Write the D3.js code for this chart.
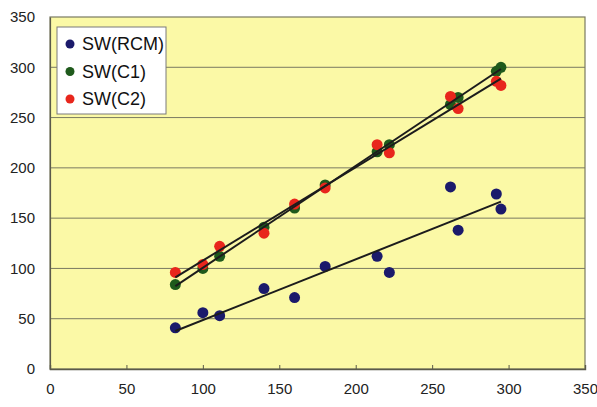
<!DOCTYPE html>
<html>
<head>
<meta charset="utf-8">
<script src="https://cdn.jsdelivr.net/npm/d3@7"></script>
<style>
  html, body { margin: 0; padding: 0; background: #ffffff; }
  svg { display: block; }
  text { font-family: "Liberation Sans", Arial, sans-serif; }
</style>
</head>
<body>
<svg id="chart" width="597" height="407"></svg>
<script>
// ---- data ----
const xValues = [82, 100, 111, 140, 160, 180, 214, 222, 262, 267, 292, 295];
const rcmValues = [41, 56, 53, 80, 71, 102, 112, 96, 181, 138, 174, 159];
const c1Values  = [84, 100, 112, 141, 160, 183, 216, 223, 263, 270, 296, 300];
const c2Values  = [96, 104, 122, 135, 164, 180, 223, 215, 271, 259, 286, 282];
const seriesNames = ["SW(RCM)", "SW(C1)", "SW(C2)"];
const seriesColors = ["#1b1a6b", "#1f5a1c", "#e8261c"];
const xTicks = [0, 50, 100, 150, 200, 250, 300, 350];
const yTicks = [0, 50, 100, 150, 200, 250, 300, 350];

const series = [
  { name: seriesNames[0], color: seriesColors[0], values: rcmValues },
  { name: seriesNames[1], color: seriesColors[1], values: c1Values },
  { name: seriesNames[2], color: seriesColors[2], values: c2Values }
];

// ---- layout ----
const svg = d3.select("#chart");
const plot = { left: 50, right: 585, top: 17, bottom: 369 };
const x = d3.scaleLinear().domain([0, 350]).range([plot.left, plot.right]);
const y = d3.scaleLinear().domain([0, 350]).range([plot.bottom, plot.top]);

// plot background
svg.append("rect")
  .attr("x", plot.left).attr("y", plot.top)
  .attr("width", plot.right - plot.left).attr("height", plot.bottom - plot.top)
  .attr("fill", "#fbf9a6");

// gridlines
svg.append("g")
  .selectAll("line")
  .data(yTicks.filter(t => t > 0 && t < 350))
  .join("line")
  .attr("x1", plot.left).attr("x2", plot.right)
  .attr("y1", d => y(d)).attr("y2", d => y(d))
  .attr("stroke", "#7a7a62").attr("stroke-width", 1);

// border
svg.append("rect")
  .attr("x", plot.left).attr("y", plot.top)
  .attr("width", plot.right - plot.left).attr("height", plot.bottom - plot.top)
  .attr("fill", "none").attr("stroke", "#7a7a62").attr("stroke-width", 1.2);

// x axis
const xAxis = d3.axisBottom(x).tickValues(xTicks).tickSize(-4).tickPadding(14).tickFormat(d3.format("d"));
const gx = svg.append("g").attr("transform", `translate(0,${plot.bottom})`).call(xAxis);
gx.select(".domain").attr("stroke", "#5a5a4a").attr("stroke-width", 1.4);
gx.selectAll(".tick line").attr("stroke", "#5a5a4a");
gx.selectAll(".tick text").attr("font-size", 15).attr("fill", "#222").attr("font-family", "Liberation Sans, Arial, sans-serif");

// y axis
const yAxis = d3.axisLeft(y).tickValues(yTicks).tickSize(0).tickPadding(15).tickFormat(d3.format("d"));
const gy = svg.append("g").attr("transform", `translate(${plot.left},0)`).call(yAxis);
gy.select(".domain").attr("stroke", "#5a5a4a").attr("stroke-width", 1.2);
gy.selectAll(".tick text").attr("font-size", 15).attr("fill", "#222").attr("font-family", "Liberation Sans, Arial, sans-serif");

// regression lines (least squares fit of each series)
function fit(xs, ys) {
  const mx = d3.mean(xs), my = d3.mean(ys);
  let sxy = 0, sxx = 0;
  xs.forEach((xv, i) => { sxy += (xv - mx) * (ys[i] - my); sxx += (xv - mx) * (xv - mx); });
  const b = sxy / sxx, a = my - b * mx;
  const x0 = d3.min(xs), x1 = d3.max(xs);
  return [[x0, a + b * x0], [x1, a + b * x1]];
}
const line = d3.line().x(d => x(d[0])).y(d => y(d[1]));

// points
series.forEach(s => {
  svg.append("g")
    .selectAll("circle")
    .data(s.values.map((v, i) => [xValues[i], v]))
    .join("circle")
    .attr("cx", d => x(d[0])).attr("cy", d => y(d[1]))
    .attr("r", 5.5)
    .attr("fill", s.color);
});

series.forEach(s => {
  svg.append("path")
    .attr("d", line(fit(xValues, s.values)))
    .attr("fill", "none")
    .attr("stroke", "#1c1c1c")
    .attr("stroke-width", 2);
});

// legend
const lg = svg.append("g");
lg.append("rect")
  .attr("x", 57).attr("y", 27).attr("width", 109).attr("height", 87)
  .attr("fill", "#ffffff").attr("stroke", "#7a7a7a").attr("stroke-width", 1);
series.forEach((s, i) => {
  const cy = 44 + i * 27.5;
  lg.append("circle").attr("cx", 70).attr("cy", cy).attr("r", 4.5).attr("fill", s.color);
  lg.append("text").attr("x", 82).attr("y", cy).attr("dy", "0.36em")
    .attr("font-size", 18).attr("fill", "#111").text(s.name);
});
</script>
</body>
</html>
